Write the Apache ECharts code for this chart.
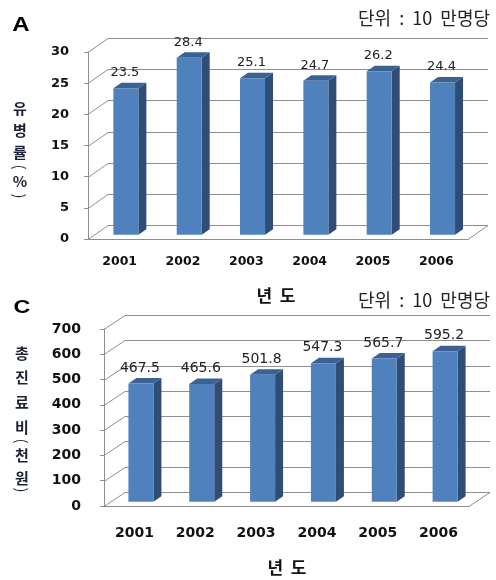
<!DOCTYPE html>
<html>
<head>
<meta charset="utf-8">
<script src="https://cdn.jsdelivr.net/npm/echarts@6/dist/echarts.min.js"></script>
<style>
  html, body { margin: 0; padding: 0; background: #fff; }
  #chart { width: 496px; height: 580px; }
</style>
</head>
<body>
<div id="chart"></div>
<script>
// Years on the category axis (shared by both panels)
const years = ['2001', '2002', '2003', '2004', '2005', '2006'];
// Panel A: prevalence per 100,000 (%)
const prevalence = [23.5, 28.4, 25.1, 24.7, 26.2, 24.4];
const prevalenceTicks = [0, 5, 10, 15, 20, 25, 30];
// Panel C: total medical cost per 100,000 (thousand won)
const totalCost = [467.5, 465.6, 501.8, 547.3, 565.7, 595.2];
const costTicks = [0, 100, 200, 300, 400, 500, 600, 700];

const GRID_LINE = '#8f8f8f';
const FRONT = '#4f81bd';
const SIDE = '#2f4d75';
const TOP = '#3b6294';
const LABEL_FONT = '"DejaVu Sans", Verdana, sans-serif';
const KR_FONT = '"Noto Sans CJK KR", "Noto Sans", sans-serif';

// Depth of the 3D box for each panel (pixels toward the back wall)
const depthA = { dx: 20, dy: -14 };
const depthC = { dx: 21, dy: -14 };

function crisp(v) { return Math.round(v) + 0.5; }

// Side-wall / back-wall gridline for one tick value
function wallItem(depth) {
  return function (params, api) {
    const v = api.value(1);
    const bw = api.size([1, 0])[0];
    const first = api.coord([0, v]);
    const last = api.coord([years.length - 1, v]);
    const xl = first[0] - bw / 2;
    const xr = last[0] + bw / 2;
    const y = crisp(first[1]);
    const children = [{
      type: 'polyline',
      shape: { points: [[xl, y], [xl + depth.dx, y + depth.dy], [xr + depth.dx, y + depth.dy]] },
      style: { stroke: GRID_LINE, lineWidth: 1, fill: null }
    }];
    if (v === 0) {
      children.push({
        type: 'line',
        shape: { x1: xr, y1: y, x2: xr + depth.dx, y2: y + depth.dy },
        style: { stroke: GRID_LINE, lineWidth: 1 }
      });
    }
    return { type: 'group', children };
  };
}

// 3D column: front face, right side, top face and its value label
function barItem(depth, labelSize) {
  return function (params, api) {
    const i = api.value(0);
    const v = api.value(1);
    const base = api.coord([i, 0]);
    const top = api.coord([i, v]);
    const sx = depth.dx * 0.31;
    const sy = depth.dy * 0.31;
    const w = 25, sdx = 8, sdy = -5.5;
    const x0 = base[0] - w / 2 + sx;
    const x1 = x0 + w;
    const yb = base[1] + sy;
    const yt = top[1] + sy;
    return {
      type: 'group',
      children: [
        { type: 'polygon', shape: { points: [[x1, yb], [x1, yt], [x1 + sdx, yt + sdy], [x1 + sdx, yb + sdy]] },
          style: { fill: SIDE } },
        { type: 'polygon', shape: { points: [[x0, yt], [x1, yt], [x1 + sdx, yt + sdy], [x0 + sdx, yt + sdy]] },
          style: { fill: TOP } },
        { type: 'rect', shape: { x: x0, y: yt, width: w, height: yb - yt },
          style: { fill: FRONT } },
        { type: 'text', x: x0 + w / 2 - 1, y: yt + sdy - 10,
          style: { text: v.toFixed(1), fill: '#222', font: labelSize + 'px ' + LABEL_FONT, align: 'center', verticalAlign: 'middle' } }
      ]
    };
  };
}

function xAxisFor(gridIndex, margin, size) {
  return {
    type: 'category', gridIndex, data: years, boundaryGap: true,
    axisLine: { lineStyle: { color: GRID_LINE } },
    axisTick: { length: 6, lineStyle: { color: GRID_LINE } },
    axisLabel: { color: '#111', fontFamily: LABEL_FONT, fontWeight: 'bold', fontSize: size, margin }
  };
}
function yAxisFor(gridIndex, max, interval, margin, size) {
  return {
    type: 'value', gridIndex, min: 0, max, interval,
    splitLine: { show: false },
    axisLine: { show: true, lineStyle: { color: GRID_LINE } },
    axisTick: { show: true, length: 4, lineStyle: { color: GRID_LINE } },
    axisLabel: { color: '#111', fontFamily: LABEL_FONT, fontWeight: 'bold', fontSize: size, margin }
  };
}

// Stacked vertical axis title; brackets are turned a quarter turn
function verticalTitle(chars, x) {
  return chars.map(([t, y]) => {
    const bracket = t === '(' || t === ')';
    return {
      type: 'text', x, y,
      rotation: bracket ? -Math.PI / 2 : 0,
      style: { text: t, fill: '#1b2236', font: (bracket ? '15px ' : 'bold 15px ') + KR_FONT,
               align: 'center', verticalAlign: 'middle' }
    };
  });
}

const chart = echarts.init(document.getElementById('chart'), null, { renderer: 'canvas' });

chart.setOption({
  animation: false,
  backgroundColor: '#fff',
  grid: [
    { left: 88, right: 28, top: 52, bottom: 341 },
    { left: 104, right: 27, top: 329, bottom: 74 }
  ],
  xAxis: [xAxisFor(0, 16, 12.5), xAxisFor(1, 20, 14)],
  yAxis: [yAxisFor(0, 30, 5, 19, 13), yAxisFor(1, 700, 100, 23, 14)],
  series: [
    { type: 'custom', xAxisIndex: 0, yAxisIndex: 0, clip: false, z: 1,
      data: prevalenceTicks.map(v => [0, v]), renderItem: wallItem(depthA), silent: true },
    { type: 'custom', xAxisIndex: 0, yAxisIndex: 0, clip: false, z: 2,
      data: prevalence.map((v, i) => [i, v]), renderItem: barItem(depthA, 13) },
    { type: 'custom', xAxisIndex: 1, yAxisIndex: 1, clip: false, z: 1,
      data: costTicks.map(v => [0, v]), renderItem: wallItem(depthC), silent: true },
    { type: 'custom', xAxisIndex: 1, yAxisIndex: 1, clip: false, z: 2,
      data: totalCost.map((v, i) => [i, v]), renderItem: barItem(depthC, 14) }
  ],
  graphic: [
    { type: 'text', x: 21, y: 25, scaleX: 1.2, style: { text: 'A', fill: '#000', font: 'bold 20px "Liberation Sans", Arial, sans-serif', align: 'center', verticalAlign: 'middle' } },
    { type: 'text', x: 22, y: 308, scaleX: 1.3, style: { text: 'C', fill: '#000', font: 'bold 18px "Liberation Sans", Arial, sans-serif', align: 'center', verticalAlign: 'middle' } },
    { type: 'text', x: 490, y: 18, style: { text: '단위  :  10  만명당', fill: '#222', font: '18px ' + KR_FONT, align: 'right', verticalAlign: 'middle' } },
    { type: 'text', x: 490, y: 300, style: { text: '단위  :  10  만명당', fill: '#222', font: '18px ' + KR_FONT, align: 'right', verticalAlign: 'middle' } },
    { type: 'text', x: 276, y: 296, style: { text: '년  도', fill: '#111', font: 'bold 17px ' + KR_FONT, align: 'center', verticalAlign: 'middle' } },
    { type: 'text', x: 287, y: 568, style: { text: '년  도', fill: '#111', font: 'bold 17px ' + KR_FONT, align: 'center', verticalAlign: 'middle' } },
    ...verticalTitle([['유', 108], ['병', 130], ['률', 152], ['(', 167], ['%', 181], [')', 196]], 20),
    ...verticalTitle([['총', 353], ['진', 377], ['료', 402], ['비', 427], ['(', 441], ['천', 455], ['원', 478], [')', 490]], 22)
  ]
});
</script>
</body>
</html>
